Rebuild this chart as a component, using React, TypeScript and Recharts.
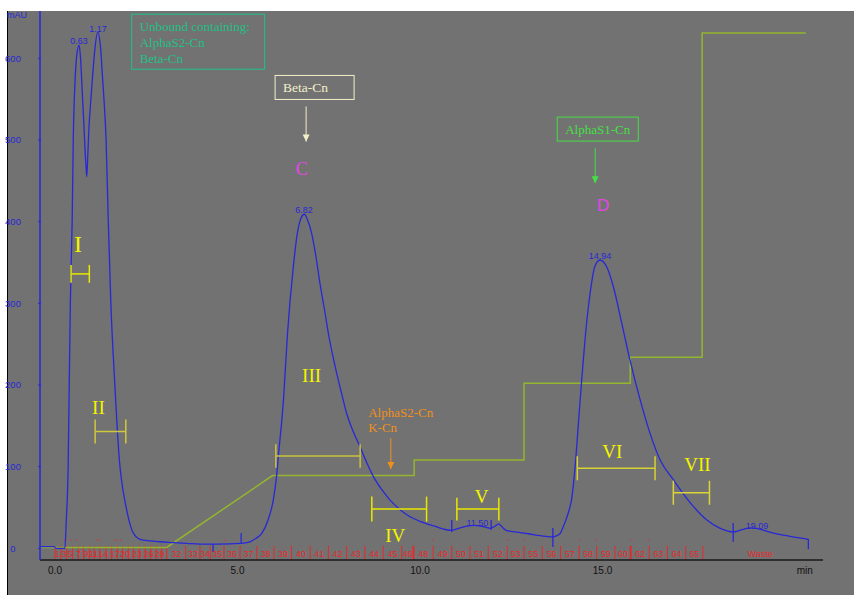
import React from 'react';
import { ComposedChart, Line, Scatter, XAxis, YAxis, ReferenceLine } from 'recharts';

// UV trace, minutes / mAU
const traceTime = [
  -0.41, -0.02, 0.02, 0.27, 0.31, 0.36, 0.39, 0.42, 0.47, 0.5, 0.55, 0.6, 0.66, 0.7, 0.74, 0.79, 0.83, 0.85, 0.87,
  0.89, 0.93, 0.98, 1.03, 1.09, 1.17, 1.25, 1.3, 1.34, 1.4, 1.46, 1.53, 1.64, 1.71, 1.78, 1.86, 1.95, 2.04, 2.13,
  2.33, 2.6, 2.88, 3.24, 3.6, 3.97, 4.5, 5.07, 5.34, 5.5, 5.66, 5.84, 5.98, 6.07, 6.12, 6.26, 6.37, 6.53, 6.64,
  6.74, 6.83, 6.92, 7.03, 7.15, 7.26, 7.38, 7.49, 7.6, 7.72, 7.85, 7.99, 8.17, 8.36, 8.54, 8.72, 8.95, 9.18, 9.41,
  9.64, 10.0, 10.4, 10.87, 11.1, 11.46, 11.7, 11.92, 12.05, 12.15, 12.25, 12.36, 12.7, 13.0, 13.3, 13.6, 13.75,
  13.85, 13.92, 14.0, 14.08, 14.15, 14.25, 14.34, 14.43, 14.52, 14.66, 14.79, 14.93, 15.11, 15.3, 15.53, 15.75,
  16.03, 16.3, 16.58, 16.94, 17.4, 17.85, 18.2, 18.58, 18.8, 19.04, 19.22, 19.6, 19.95, 20.3, 20.64,
];
const traceMau = [
  2, 2, 0, 0, 35, 100, 200, 300, 400, 500, 573, 605, 616, 600, 565, 520, 482, 468, 455,
  472, 515, 548, 578, 610, 632, 612, 578, 551, 500, 400, 300, 200, 143, 100, 72, 50, 32, 20,
  11, 9, 8, 7, 6, 5, 5, 6, 8, 12, 18, 35, 59, 88, 113, 182, 263, 345, 386,
  404, 409, 402, 386, 357, 324, 293, 263, 238, 214, 190, 165, 143, 124, 105, 88, 72, 59, 49,
  41, 33, 27, 22, 25, 28, 27, 24.5, 27, 30, 26, 22, 19.5, 17.5, 15.5, 14, 15.5,
  19, 26, 35, 46, 59, 100, 153, 206, 255, 312, 345, 353, 345, 320, 275, 231,
  182, 141, 108, 84, 56, 35, 25, 20, 22.5, 25, 24.5, 19.5, 16, 13.5, 11,
];

// step gradient, drawn on the mAU scale
const gradTime = [-0.41, 3.06, 5.96, 9.84, 9.84, 12.85, 12.85, 15.76, 15.76, 17.73, 17.73, 20.57];
const gradLevel = [1, 1, 89, 89, 108, 108, 202, 202, 234, 234, 631, 631];

// fraction collector
const earlyFracEdges = [0, 0.16, 0.32, 0.48, 0.64, 0.78, 0.94, 1.07, 1.23, 1.4, 1.55, 1.71, 1.85, 2.01, 2.15, 2.31, 2.47, 2.62, 2.77, 2.92];
const earlyFracTime = [0.06, 0.25, 0.41, 0.64, 0.84, 1.05, 1.32, 1.64, 1.92, 2.25, 2.56, 2.86];
const earlyFracNames = ['1', '3', '5', '7', '9', '11', '14', '17', '20', '23', '26', '29'];
const fracEdges = [
  3.06, 3.58, 3.97, 4.25, 4.63, 5.07, 5.53, 6.0, 6.48, 6.99, 7.49, 7.99, 8.49, 8.99, 9.5, 9.82,
  10.36, 10.87, 11.37, 11.87, 12.39, 12.85, 13.35, 13.85, 14.36, 14.84, 15.34, 15.77, 16.28, 16.78, 17.28, 17.75,
];
const fracNames = [
  '32', '33', '34', '35', '36', '37', '38', '39', '40', '41', '42', '43', '44', '45', '46',
  '48', '49', '50', '51', '52', '53', '55', '56', '57', '58', '59', '60', '62', '63', '64', '65',
];
const wasteTime = 19.32;
const eventTime = [0.25, 0.44, 0.59, 1.14, 1.21, 1.64, 1.71, 1.8, 4.66, 10.35, 12.39, 12.85, 14.36, 14.84, 15.77, 16.28];

// integration marks
const cutTime = [4.33, 5.1, 10.87, 11.95, 13.64, 18.58, 20.64];
const cutTop = [5.3, 18.7, 34.6, 34.6, 24.9, 31, 11.4];
const cutBottom = [-4.6, 6.5, 20, 22.4, 1.6, 8, -1];

// retention time labels
const peakTime = [0.66, 1.18, 6.82, 11.57, 14.93, 19.23];
const peakMau = [616, 631, 409, 26, 353, 22.4];
const peakText = ['0.63', '1.17', '6.82', '11.50', '14.94', '19.09'];

// pooled fractions
const poolName = ['I', 'II', 'III', 'IV', 'V', 'VI', 'VII'];
const poolFrom = [0.44, 1.1, 6.05, 8.68, 11.01, 14.31, 16.94];
const poolTo = [0.94, 1.94, 8.36, 10.18, 12.16, 16.44, 17.93];
const poolLevel = [336, 143, 113, 48, 48, 98, 68];
const poolCap = [11, 14.7, 14.3, 15.3, 14, 14.7, 14.7];
const poolNameTime = [0.63, 1.19, 7.03, 9.32, 11.69, 15.27, 17.6];
const poolNameMau = [372, 173, 212, 16, 64, 118, 102];

// notes
const unboundLines = ['Unbound containing:', 'AlphaS2-Cn', 'Beta-Cn'];
const unboundAt = { x: 2.1, y: 654 };
const betaAt = { x: 6.03, y: 579 };
const betaArrow = { x: 6.88, from: 541, to: 498 };
const peakCAt = { x: 6.76, y: 464 };
const alphaS1At = { x: 13.76, y: 528 };
const alphaS1Arrow = { x: 14.8, from: 490, to: 447 };
const peakDAt = { x: 15.02, y: 419.5 };
const minorLines = ['AlphaS2-Cn', 'K-Cn'];
const minorAt = { x: 8.58, y: 166 };
const minorArrow = { x: 9.2, from: 135, to: 97 };

const BLUE = '#2828d8';
const RED = '#e32b2b';
const GRAD = '#94b52e';
const SERIF = '"Liberation Serif", "Times New Roman", serif';
const SANS = '"Liberation Sans", Arial, sans-serif';
const poolColor = ['#e8e800', '#cfc83c', '#c9c33c', '#e8e800', '#e8e800', '#d6d232', '#d8d43a'];

const traceData = traceTime.map((x, i) => ({ x, y: traceMau[i] }));
const gradData = gradTime.map((x, i) => ({ x, y: gradLevel[i] }));
const fracLabelData = [
  ...earlyFracNames.map((t, i) => ({ x: earlyFracTime[i], y: -7.3, t })),
  ...fracNames.map((t, i) => ({ x: (fracEdges[i] + fracEdges[i + 1]) / 2, y: -7.3, t })),
  { x: wasteTime, y: -7.3, t: 'Waste' },
];
const peakData = peakTime.map((x, i) => ({ x, y: peakMau[i], t: peakText[i] }));
const poolData = poolName.map((t, i) => ({ x: poolNameTime[i], y: poolNameMau[i], t, i }));

const Arrowhead = (color: string) => (p: any) => (
  <polygon points={`${p.cx - 3.5},${p.cy - 7} ${p.cx + 3.5},${p.cy - 7} ${p.cx},${p.cy}`} fill={color} />
);

const NoteBox = (lines: string[], w: number, h: number, color: string, size: number, dx: number) => (p: any) => (
  <g>
    <rect x={p.cx} y={p.cy} width={w} height={h} fill="none" stroke={color} strokeWidth={1} />
    {lines.map((l, i) => (
      <text key={l} x={p.cx + dx} y={p.cy + 17 + i * 16} fill={color} fontSize={size} fontFamily={SERIF}>
        {l}
      </text>
    ))}
  </g>
);

export default function App() {
  return (
    <div style={{ position: 'fixed', left: 0, top: 0, width: 854, height: 595, background: '#fff' }}>
      <div
        style={{
          position: 'absolute',
          left: 7,
          top: 11,
          width: 846,
          height: 584,
          background: '#727272',
          borderLeft: '1px solid #000',
        }}
      />
      <div style={{ position: 'absolute', left: 0, top: 0 }}>
        <ComposedChart width={854} height={595} margin={{ top: 11, right: 31, bottom: 0, left: 0 }}>
          <XAxis
            dataKey="x"
            type="number"
            domain={[-0.411, 21.041]}
            allowDataOverflow
            ticks={[0, 5, 10, 15, 20.54]}
            height={35}
            tickSize={0}
            tickLine={false}
            axisLine={{ stroke: '#1a1a1a', strokeWidth: 1.5 }}
            tick={(p: any) => (
              <text x={p.x} y={p.y + 8.5} textAnchor="middle" dominantBaseline="central" fill="#111" fontSize={10} fontFamily={SANS}>
                {p.payload.value > 20 ? 'min' : Number(p.payload.value).toFixed(1)}
              </text>
            )}
          />
          <YAxis
            type="number"
            domain={[-14.33, 657.9]}
            allowDataOverflow
            ticks={[0, 100, 200, 300, 400, 500, 600, 653.6]}
            width={40}
            tickSize={0}
            tickLine={false}
            axisLine={{ stroke: BLUE, strokeWidth: 1.5 }}
            tick={(p: any) =>
              p.payload.value > 620 ? (
                <text x={p.x - 21} y={p.y} textAnchor="middle" dominantBaseline="central" fill={BLUE} fontSize={9} fontFamily={SANS}>
                  mAU
                </text>
              ) : (
                <g>
                  <line x1={p.x} x2={p.x + 3} y1={p.y} y2={p.y} stroke={BLUE} />
                  <text x={p.x - 25} y={p.y} textAnchor="middle" dominantBaseline="central" fill={BLUE} fontSize={9.5} fontFamily={SANS}>
                    {p.payload.value}
                  </text>
                </g>
              )
            }
          />

          {earlyFracEdges.map((e) => (
            <ReferenceLine key={'ef' + e} segment={[{ x: e, y: 3 }, { x: e, y: -14.2 }]} stroke={RED} strokeWidth={1} />
          ))}
          {fracEdges.map((e) => (
            <ReferenceLine
              key={'f' + e}
              segment={[{ x: e, y: 3 }, { x: e, y: -14.2 }]}
              stroke={RED}
              strokeWidth={e === 9.82 || e === 15.77 ? 2 : 1}
            />
          ))}
          {eventTime.map((e) => (
            <ReferenceLine key={'ev' + e} segment={[{ x: e, y: 9 }, { x: e, y: 10.5 }]} stroke={RED} strokeWidth={1} />
          ))}
          <Scatter
            data={fracLabelData}
            dataKey="y"
            isAnimationActive={false}
            shape={(p: any) => (
              <text x={p.cx} y={p.cy} textAnchor="middle" dominantBaseline="central" fill={RED} fontSize={9} fontFamily={SANS}>
                {p.payload.t}
              </text>
            )}
          />

          <Line data={gradData} dataKey="y" type="linear" stroke={GRAD} strokeWidth={1.5} dot={false} isAnimationActive={false} />
          <Line data={traceData} dataKey="y" type="monotone" stroke={BLUE} strokeWidth={1.3} dot={false} isAnimationActive={false} />

          {cutTime.map((t, i) => (
            <ReferenceLine key={'c' + t} segment={[{ x: t, y: cutTop[i] }, { x: t, y: cutBottom[i] }]} stroke={BLUE} strokeWidth={1.3} />
          ))}
          <Scatter
            data={peakData}
            dataKey="y"
            isAnimationActive={false}
            shape={(p: any) => (
              <text x={p.cx} y={p.cy - 1} textAnchor="middle" fill={BLUE} fontSize={9} fontFamily={SANS}>
                {p.payload.t}
              </text>
            )}
          />

          {poolName.map((n, i) => (
            <ReferenceLine key={'pb' + n} segment={[{ x: poolFrom[i], y: poolLevel[i] }, { x: poolTo[i], y: poolLevel[i] }]} stroke={poolColor[i]} strokeWidth={1.5} />
          ))}
          {poolName.map((n, i) => (
            <ReferenceLine key={'pl' + n} segment={[{ x: poolFrom[i], y: poolLevel[i] + poolCap[i] }, { x: poolFrom[i], y: poolLevel[i] - poolCap[i] }]} stroke={poolColor[i]} strokeWidth={1.5} />
          ))}
          {poolName.map((n, i) => (
            <ReferenceLine key={'pr' + n} segment={[{ x: poolTo[i], y: poolLevel[i] + poolCap[i] }, { x: poolTo[i], y: poolLevel[i] - poolCap[i] }]} stroke={poolColor[i]} strokeWidth={1.5} />
          ))}
          <Scatter
            data={poolData}
            dataKey="y"
            isAnimationActive={false}
            shape={(p: any) => (
              <text
                x={p.cx}
                y={p.cy}
                textAnchor="middle"
                dominantBaseline="central"
                fill="#f4f400"
                fontSize={p.payload.t === 'I' ? 24 : 19}
                fontFamily={SERIF}
              >
                {p.payload.t}
              </text>
            )}
          />

          <Scatter data={[unboundAt]} dataKey="y" isAnimationActive={false} shape={NoteBox(unboundLines, 133, 55, '#22c088', 13, 8)} />
          <Scatter data={[betaAt]} dataKey="y" isAnimationActive={false} shape={NoteBox(['Beta-Cn'], 79, 24, '#f2f0c8', 13.5, 8)} />
          <ReferenceLine segment={[{ x: betaArrow.x, y: betaArrow.from }, { x: betaArrow.x, y: betaArrow.to }]} stroke="#f2f0c8" />
          <Scatter data={[{ x: betaArrow.x, y: betaArrow.to }]} dataKey="y" isAnimationActive={false} shape={Arrowhead('#f2f0c8')} />
          <Scatter
            data={[peakCAt]}
            dataKey="y"
            isAnimationActive={false}
            shape={(p: any) => (
              <text x={p.cx} y={p.cy} textAnchor="middle" dominantBaseline="central" fill="#e545e5" fontSize={18} fontFamily={SERIF}>
                C
              </text>
            )}
          />

          <Scatter data={[alphaS1At]} dataKey="y" isAnimationActive={false} shape={NoteBox(['AlphaS1-Cn'], 81, 24, '#44e044', 13, 8)} />
          <ReferenceLine segment={[{ x: alphaS1Arrow.x, y: alphaS1Arrow.from }, { x: alphaS1Arrow.x, y: alphaS1Arrow.to }]} stroke="#44e044" />
          <Scatter data={[{ x: alphaS1Arrow.x, y: alphaS1Arrow.to }]} dataKey="y" isAnimationActive={false} shape={Arrowhead('#44e044')} />
          <Scatter
            data={[peakDAt]}
            dataKey="y"
            isAnimationActive={false}
            shape={(p: any) => (
              <text x={p.cx} y={p.cy} textAnchor="middle" dominantBaseline="central" fill="#e545e5" fontSize={17} fontFamily={SANS}>
                D
              </text>
            )}
          />

          <Scatter
            data={[minorAt]}
            dataKey="y"
            isAnimationActive={false}
            shape={(p: any) => (
              <g>
                {minorLines.map((l, i) => (
                  <text key={l} x={p.cx} y={p.cy + 4.5 + i * 14.5} fill="#f0901c" fontSize={13} fontFamily={SERIF}>
                    {l}
                  </text>
                ))}
              </g>
            )}
          />
          <ReferenceLine segment={[{ x: minorArrow.x, y: minorArrow.from }, { x: minorArrow.x, y: minorArrow.to }]} stroke="#f0901c" />
          <Scatter data={[{ x: minorArrow.x, y: minorArrow.to }]} dataKey="y" isAnimationActive={false} shape={Arrowhead('#f0901c')} />
        </ComposedChart>
      </div>
    </div>
  );
}
